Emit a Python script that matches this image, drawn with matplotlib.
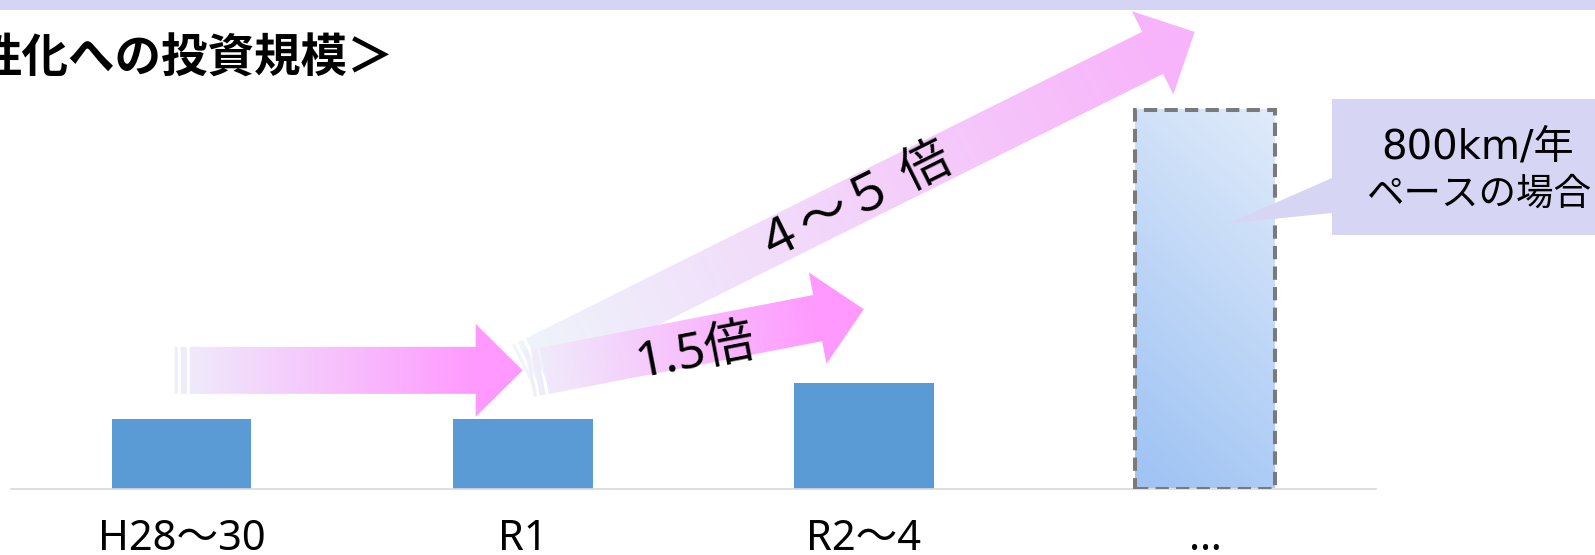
import numpy as np
import matplotlib
matplotlib.use("Agg")
import matplotlib.pyplot as plt
from matplotlib.patches import Polygon, Rectangle, PathPatch
from matplotlib.path import Path
from matplotlib.colors import to_rgb

plt.rcParams['font.family'] = ['Noto Sans', 'Noto Sans CJK JP']

W, H = 1595, 555

# chart data (relative investment, H28~30 = 1)
categories = ["H28～30", "R1", "R2～4", "…"]
investment = [1.0, 1.0, 1.52, 5.45]
is_estimate = [False, False, False, True]

title_text = "性化への投資規模＞"
ratio_labels = ["1.5倍", "４～５ 倍"]
callout_lines = ["800km/年", "ペースの場合"]

BLUE = "#5b9bd5"


def arrow_parts(p0, p1, shaft=47, head=93, head_len=47, stripes=((0, 3), (6, 12)), body_start=15):
    # polygons (pixel space) for a striped block arrow from p0 to p1
    p0 = np.asarray(p0, float)
    p1 = np.asarray(p1, float)
    d = p1 - p0
    L = np.hypot(*d)
    u = d / L
    n = np.array([-u[1], u[0]])
    s, h = shaft / 2, head / 2
    base = p1 - u * head_len
    b0 = p0 + u * body_start
    body = [b0 + n * s, base + n * s, base + n * h, p1, base - n * h, base - n * s, b0 - n * s]
    polys = [body]
    for a, b in stripes:
        pa, pb = p0 + u * a, p0 + u * b
        polys.append([pa + n * s, pb + n * s, pb - n * s, pa - n * s])
    return polys, u, L - head_len


def gradient_arrow(axd, p0, p1, c0, c1, z):
    polys, u, glen = arrow_parts(p0, p1)
    paths = [Path(np.vstack([p, p[0]]), closed=True) for p in map(np.array, polys)]
    path = Path.make_compound_path(*paths)
    allpts = np.vstack(polys)
    xmin, ymin = allpts.min(axis=0) - 2
    xmax, ymax = allpts.max(axis=0) + 2
    xs = np.arange(xmin, xmax, 1.0)
    ys = np.arange(ymin, ymax, 1.0)
    X, Y = np.meshgrid(xs, ys)
    t = ((X - p0[0]) * u[0] + (Y - p0[1]) * u[1]) / glen
    t = np.clip(t, 0, 1)[..., None]
    img = np.array(to_rgb(c0)) * (1 - t) + np.array(to_rgb(c1)) * t
    im = axd.imshow(img, extent=(xmin, xmax, ymax, ymin), origin='upper',
                    interpolation='bilinear', aspect='auto', zorder=z)
    im.set_clip_path(PathPatch(path, transform=axd.transData))


fig = plt.figure(figsize=(W / 100, H / 100), dpi=100)
ax = fig.add_axes([11 / W, 66.5 / H, 1364.5 / W, 486.5 / H])
x = np.arange(len(categories))
bw = 0.41

solid = [i for i in x if not is_estimate[i]]
ax.bar([x[i] for i in solid], [investment[i] for i in solid], width=bw, color=BLUE, zorder=2)

# estimated bar: light gradient with dashed border
for i in x:
    if not is_estimate[i]:
        continue
    v = investment[i]
    gy, gx = np.mgrid[0:1:120j, 0:1:40j]
    t = np.clip(0.8 * gy + 0.25 * (1 - gx), 0, 1)[..., None]
    img = np.array(to_rgb("#a0c4f4")) * t + np.array(to_rgb("#e0ebfa")) * (1 - t)
    ax.imshow(img[::-1], extent=(i - bw / 2, i + bw / 2, 0, v), origin='lower',
              aspect='auto', zorder=2, interpolation='bilinear')
    ax.bar(i, v, width=bw, facecolor='none', edgecolor='#7a7a7a', lw=2.9,
           linestyle=(0, (3.3, 1.8)), zorder=3)

ax.set_xlim(-0.5, 3.5)
ax.set_ylim(0, 7)
ax.set_xticks(x)
ax.set_xticklabels(categories)
ax.tick_params(axis='x', length=0, pad=21, labelsize=30)
ax.set_yticks([])
for sp in ['top', 'left', 'right']:
    ax.spines[sp].set_visible(False)
ax.spines['bottom'].set_color('#d9d9d9')
ax.spines['bottom'].set_linewidth(1.2)
ax.patch.set_visible(False)

# decoration layer in pixel coordinates (y down)
deco = fig.add_axes([0, 0, 1, 1], zorder=5)
deco.set_xlim(0, W)
deco.set_ylim(H, 0)
deco.axis('off')
deco.patch.set_visible(False)


def to_px(xd, yd):
    dx, dy = ax.transData.transform((xd, yd))
    return np.array([dx, H - dy])


deco.add_patch(Rectangle((0, 0), W, 10, color='#d4d4f4', lw=0))
deco.text(-25, 59, title_text, fontsize=33.5, fontweight='bold', ha='left', va='center',
          family=['Noto Sans CJK JP'])

# growth arrows (anchored on the category axis)
a45 = (to_px(1.0, 1.76), to_px(2.97, 6.57))
a15 = (to_px(1.02, 1.65), to_px(2.0, 2.58))
a10 = (to_px(-0.02, 1.70), to_px(1.0, 1.70))
gradient_arrow(deco, *a45, "#eef5fb", "#f8b4fa", 1)
gradient_arrow(deco, *a15, "#efeefa", "#ff99ff", 2)
gradient_arrow(deco, *a10, "#eeeefa", "#ff99ff", 3)

for (p0, p1), lab, dy in zip([a15, a45], ratio_labels, [11, 2]):
    c = p0 + (p1 - p0) * 0.49
    ang = np.degrees(np.arctan2(-(p1[1] - p0[1]), p1[0] - p0[0]))
    deco.text(c[0] + 2, c[1] + dy, lab, fontsize=36, rotation=ang, rotation_mode='anchor',
              ha='center', va='center', zorder=6)

# callout box pointing into the estimated bar
tip = to_px(3.07, investment[3] * 0.70)
box = [(1332, 99), (1600, 99), (1600, 235), (1332, 235), (1332, 213), tip, (1332, 178)]
deco.add_patch(Polygon(box, closed=True, facecolor='#d6d6f4', edgecolor='none', zorder=4))
deco.text(1478, 148, callout_lines[0], fontsize=29, ha='center', va='center', zorder=6,
          family=['DejaVu Sans', 'Noto Sans CJK JP'])
deco.text(1479, 194, callout_lines[1], fontsize=27, ha='center', va='center', zorder=6,
          family=['Noto Sans CJK JP'])
deco.set_xlim(0, W)
deco.set_ylim(H, 0)

fig.savefig("out.png", dpi=100)
